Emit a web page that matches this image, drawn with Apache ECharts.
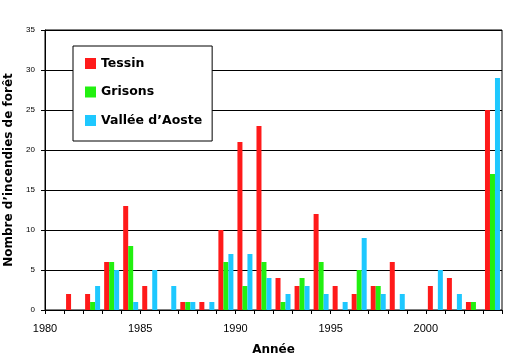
<!DOCTYPE html>
<html>
<head>
<meta charset="utf-8">
<script src="https://cdn.jsdelivr.net/npm/echarts@6/dist/echarts.min.js"></script>
<style>
html,body{margin:0;padding:0;background:#fff;}
#chart{width:530px;height:362px;}
</style>
</head>
<body>
<div id="chart"></div>
<script>
var years = ['1980','1981','1982','1983','1984','1985','1986','1987','1988','1989','1990','1991','1992','1993','1994','1995','1996','1997','1998','1999','2000','2001','2002','2003'];
var tessin = [0,2,2,6,13,3,0,1,1,10,21,23,4,3,12,3,2,3,6,0,3,4,1,25];
var grisons = [0,0,1,6,8,0,0,1,0,6,3,6,1,4,6,0,5,3,0,0,0,0,1,17];
var aoste = [0,0,3,5,1,5,3,1,1,7,7,4,2,3,2,1,9,2,2,0,5,2,0,29];
var seriesNames = ['Tessin','Grisons','Vallée d’Aoste'];
var yTitle = 'Nombre d’incendies de forêt';
var xTitle = 'Année';

var chart = echarts.init(document.getElementById('chart'), null, {renderer:'canvas'});
var colors = ['#ff1a1a','#22f010','#1ec8ff'];
function mk(name, data, color){
  return {name:name, type:'bar', data:data, xAxisIndex:0, yAxisIndex:0,
    barWidth:5, barGap:'0%', itemStyle:{color:color}, silent:true, animation:false};
}
chart.setOption({
  animation:false,
  grid:{left:45, right:28, top:30, bottom:52, outerBoundsMode:'none', containLabel:false,
    show:true, borderColor:'#000', borderWidth:1, backgroundColor:'transparent'},
  legend:{
    left:73, top:46, orient:'vertical', icon:'rect', itemWidth:11, itemHeight:11,
    itemGap:15.5, itemTextGap:9, padding:[11,10,14,12], backgroundColor:'#fff', borderColor:'#000', borderWidth:1,
    borderRadius:0, itemStyle:{borderWidth:0},
    textStyle:{fontFamily:'DejaVu Sans', fontWeight:'bold', fontSize:12.5, color:'#000', lineHeight:11, padding:[0,0,0,0]},
    data:seriesNames, selectedMode:false
  },
  xAxis:[
    {type:'category', data:years, position:'bottom', boundaryGap:true,
     axisLine:{lineStyle:{color:'#000', width:1}},
     axisTick:{show:true, interval:0, length:4, lineStyle:{color:'#000'}},
     axisLabel:{show:false}, splitLine:{show:false},
     name:xTitle, nameLocation:'middle', nameGap:34,
     nameTextStyle:{fontFamily:'DejaVu Sans', fontWeight:'bold', fontSize:12, color:'#000'}},
    {type:'value', min:1980, max:2004, interval:5, position:'bottom',
     axisLine:{show:false}, axisTick:{show:false}, splitLine:{show:false},
     axisLabel:{show:true, margin:13, showMaxLabel:false, fontFamily:'Liberation Sans', fontSize:11, color:'#000',
       formatter:function(v){return String(v);}}}
  ],
  yAxis:{type:'value', min:0, max:35, interval:5,
    axisLine:{show:true, lineStyle:{color:'#000'}},
    axisTick:{show:true, length:4, lineStyle:{color:'#000'}},
    splitLine:{show:true, lineStyle:{color:'#000', width:1}},
    axisLabel:{margin:10, fontFamily:'Liberation Sans', fontSize:8, color:'#000'},
    name:yTitle, nameLocation:'middle', nameGap:30, nameRotate:90,
    nameTextStyle:{fontFamily:'DejaVu Sans', fontWeight:'bold', fontSize:12, color:'#000'}},
  series:[mk(seriesNames[0], tessin, colors[0]), mk(seriesNames[1], grisons, colors[1]), mk(seriesNames[2], aoste, colors[2])]
});
</script>
</body>
</html>
